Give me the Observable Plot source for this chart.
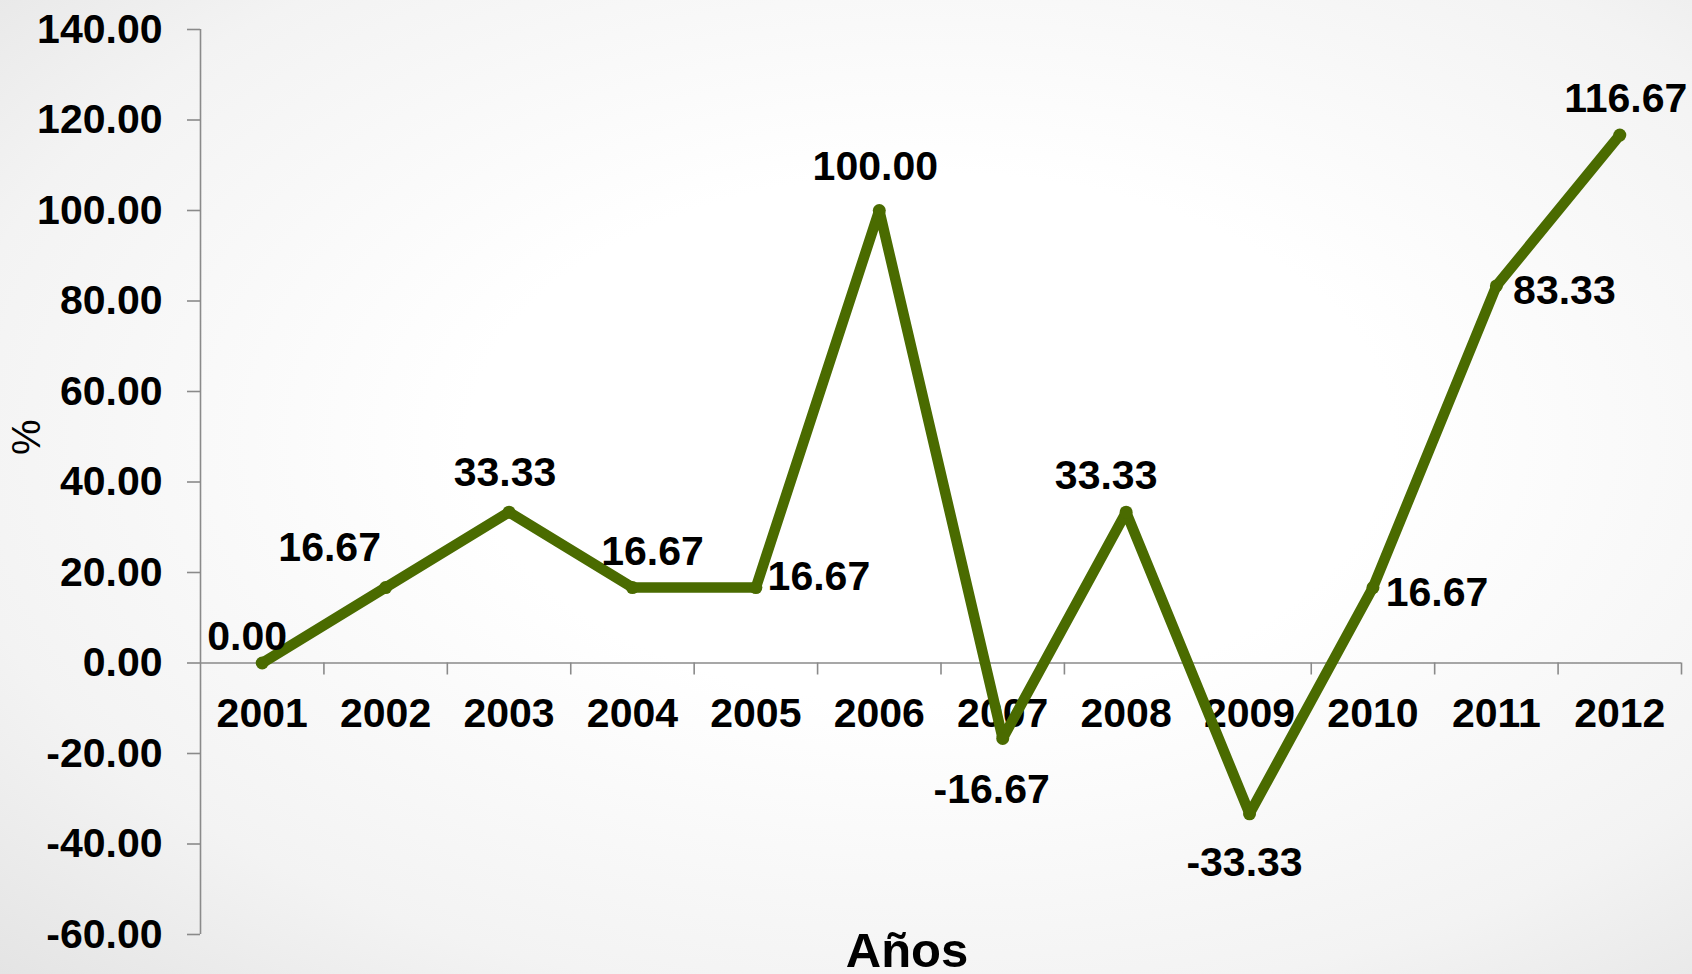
<!DOCTYPE html>
<html>
<head>
<meta charset="utf-8">
<script src="https://cdn.jsdelivr.net/npm/d3@7"></script>
<script src="https://cdn.jsdelivr.net/npm/@observablehq/plot@0.6"></script>
<style>
  html, body { margin: 0; padding: 0; }
  body {
    width: 1692px; height: 974px; overflow: hidden;
    background: radial-gradient(ellipse at 55% 45%, #ffffff 35%, #f3f3f3 75%, #e4e4e4 100%);
    font-family: "Liberation Sans", Arial, sans-serif;
  }
  #chart svg { display: block; background: transparent; }
</style>
</head>
<body>
<div id="chart"></div>
<script>
// ---- data ----
const years = [2001, 2002, 2003, 2004, 2005, 2006, 2007, 2008, 2009, 2010, 2011, 2012];
const values = [0.00, 16.67, 33.33, 16.67, 16.67, 100.00, -16.67, 33.33, -33.33, 16.67, 83.33, 116.67];
const yTicks = [-60, -40, -20, 0, 20, 40, 60, 80, 100, 120, 140];
const xLabel = "Años";
const yLabel = "%";

// label nudges (pixels) for each data label
const labelDx = [-15, -56, -4, 20, 63, -4, -11, -20, -5, 64, 68, 6];
const labelDy = [-26, -40, -39, -36, -11, -44, 51, -36, 49, 5, 5, -36];

// ---- build ----
const rows = years.map((year, i) => ({year, value: values[i], dx: labelDx[i], dy: labelDy[i]}));
const bounds = [years[0] - 0.5, ...years.map(y => y + 0.5)];

const lineColor = "#4a6b00";
const axisColor = "#8a8a8a";
const font = "'Liberation Sans', Arial, sans-serif";

const W = 1692, H = 974;
const mTop = 29, mBottom = 40, mLeft = 200, mRight = 11;
const tickLenData = 12 * (yTicks[yTicks.length - 1] - yTicks[0]) / (H - mTop - mBottom);

const chart = Plot.plot({
  width: W,
  height: H,
  marginTop: mTop,
  marginBottom: mBottom,
  marginLeft: mLeft,
  marginRight: mRight,
  style: {fontFamily: font, background: "transparent", overflow: "visible"},
  x: {type: "linear", domain: [bounds[0], bounds[bounds.length - 1]], axis: null},
  y: {domain: [yTicks[0], yTicks[yTicks.length - 1]], axis: null},
  marks: [
    // y axis
    Plot.axisY({
      ticks: yTicks, tickSize: 13, tickPadding: 25,
      tickFormat: d => d.toFixed(2),
      stroke: axisColor, strokeWidth: 1.6, fill: "#000",
      fontSize: 41, fontWeight: "bold", label: null
    }),
    Plot.ruleX([bounds[0]], {stroke: axisColor, strokeWidth: 1.6}),
    // x axis at zero
    Plot.ruleY([0], {stroke: axisColor, strokeWidth: 1.6}),
    Plot.ruleX(bounds.slice(1), {x: d => d, y1: 0, y2: -tickLenData, stroke: axisColor, strokeWidth: 1.6}),
    Plot.text(years, {x: d => d, y: 0, text: d => String(d), dy: 51, fontSize: 41, fontWeight: "bold", fill: "#000", lineAnchor: "middle"}),
    // series
    Plot.line(rows, {x: "year", y: "value", stroke: lineColor, strokeWidth: 10.5, strokeLinejoin: "round", strokeLinecap: "round"}),
    Plot.dot(rows, {x: "year", y: "value", r: 6.5, fill: lineColor, stroke: null}),
    // data labels
    ...rows.map(r => Plot.text([r], {
      x: "year", y: "value", text: d => d.value.toFixed(2),
      dx: r.dx, dy: r.dy, fontSize: 41, fontWeight: "bold", fill: "#000", lineAnchor: "middle"
    })),
    // axis titles
    Plot.text([xLabel], {frameAnchor: "bottom", text: d => d, dx: -34, dy: 17, fontSize: 49, fontWeight: "bold", fill: "#000", lineAnchor: "middle"}),
    Plot.text([yLabel], {frameAnchor: "left", text: d => d, dx: -173, dy: -27, rotate: -90, fontSize: 40, fill: "#000", lineAnchor: "middle"})
  ]
});
document.getElementById("chart").appendChild(chart);
</script>
</body>
</html>
